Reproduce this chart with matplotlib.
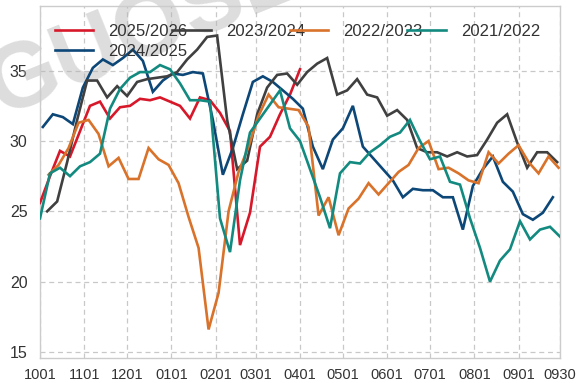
import matplotlib
matplotlib.use("Agg")
import matplotlib.pyplot as plt

# weekly values, x = days since Oct 1
tick_days = [0, 31, 61, 92, 123, 151, 182, 212, 243, 273, 304, 335, 364]
tick_labels = ["1001", "1101", "1201", "0101", "0201", "0301", "0401",
               "0501", "0601", "0701", "0801", "0901", "0930"]

s2526 = [25.6, 27.5, 29.3, 28.9, 30.7, 32.5, 32.8, 31.6, 32.4, 32.5,
         33.0, 32.9, 33.1, 32.8, 32.5, 31.6, 33.1, 32.9, 32.0, 30.7,
         22.6, 24.9, 29.6, 30.3, 31.9, 33.3, 35.1]

s2425 = [31.0, 31.9, 31.7, 31.2, 33.8, 35.2, 35.8, 35.4, 35.9, 36.5,
         35.7, 33.5, 34.3, 34.8, 34.7, 34.9, 34.8, 31.5, 27.6, 29.5,
         31.9, 34.2, 34.6, 34.2, 33.6, 33.0, 32.3, 29.6, 28.0, 30.1,
         30.9, 32.5, 29.6, 28.8, 28.0, 27.2, 26.0, 26.6, 26.5, 26.5,
         26.0, 26.0, 23.7, 26.8, 28.0, 28.9, 27.1, 26.4, 24.8, 24.4,
         24.9, 26.0]

s2324 = [25.0, 25.7, 28.5, 31.5, 34.3, 34.3, 33.1, 33.9, 33.2, 34.2,
         34.4, 34.5, 34.6, 34.9, 35.8, 36.5, 37.4, 37.5, 31.5, 28.0,
         28.6, 31.9, 33.8, 34.7, 34.8, 34.0, 34.9, 35.5, 35.9, 33.3,
         33.6, 34.4, 33.3, 33.1, 31.8, 32.2, 31.5, 29.5, 29.2, 29.2,
         28.9, 29.2, 28.9, 29.0, 30.1, 31.3, 31.9, 29.9, 28.1, 29.2,
         29.2, 28.5]

s2223 = [27.6, 28.3, 29.5, 31.3, 31.5, 30.5, 28.2, 28.8, 27.3, 27.3,
         29.5, 28.7, 28.3, 27.0, 24.6, 22.4, 16.6, 19.2, 25.0, 27.8,
         29.6, 31.8, 33.3, 32.4, 32.3, 32.2, 31.0, 24.7, 26.0, 23.3,
         25.2, 25.9, 27.0, 26.2, 27.0, 27.8, 28.3, 29.5, 30.0, 28.0,
         28.1, 27.7, 27.2, 27.0, 29.2, 28.4, 29.1, 29.7, 28.5, 27.7,
         28.9, 28.1]

s2122 = [24.5, 27.7, 28.1, 27.5, 28.2, 28.5, 29.1, 32.3, 33.7, 34.5,
         34.9, 34.9, 35.4, 35.1, 34.1, 32.9, 32.9, 32.8, 24.5, 22.1,
         27.2, 30.6, 31.6, 32.6, 33.6, 30.9, 30.0, 28.0, 26.0, 23.8,
         27.7, 28.5, 28.4, 29.2, 29.7, 30.3, 30.6, 31.5, 30.0, 28.7,
         28.9, 27.1, 26.9, 24.5, 22.4, 20.0, 21.5, 22.3, 24.3, 23.0,
         23.7, 23.9, 23.2]

# (label, values, first day, colour)
series = [
    ("2025/2026", s2526, 0, "#d7182a"),
    ("2024/2025", s2425, 2, "#0c4778"),
    ("2023/2024", s2324, 5, "#404040"),
    ("2022/2023", s2223, 6, "#d9722a"),
    ("2021/2022", s2122, 0, "#138a80"),
]

plt.rcParams["font.family"] = ["Liberation Sans", "DejaVu Sans"]

fig = plt.figure(figsize=(5.78, 3.83), dpi=100)
ax = fig.add_axes([40 / 578, 25 / 383, 520 / 578, 352 / 383])

for label, vals, start, color in series:
    days = [start + 7 * i for i in range(len(vals))]
    ax.plot(days, vals, color=color, lw=1.9, label=label, zorder=3,
            solid_joinstyle="miter")

ax.set_xlim(0, 364)
ax.set_ylim(14.57, 39.6)
ax.set_xticks(tick_days)
ax.set_xticklabels(tick_labels)
ax.set_yticks([15, 20, 25, 30, 35])
ax.tick_params(axis="x", length=0, pad=7, labelsize=10.5, labelcolor="#333333")
ax.tick_params(axis="y", length=0, pad=9, labelsize=11.5, labelcolor="#333333")
ax.grid(True, color="#c8c8c8", ls=(0, (4, 3)), lw=0.9)
ax.set_axisbelow(True)
for sp in ax.spines.values():
    sp.set_color("#cccccc")
    sp.set_linewidth(1.0)

# watermark, runs off the top edge
ax.text(0 / 578, 1 - 116 / 383, "GUOSEN", transform=fig.transFigure,
        fontsize=66, fontweight="bold", color="#b4b4b4", alpha=0.45,
        rotation=22, rotation_mode="anchor", ha="left", va="baseline",
        clip_on=False, zorder=1)

leg = ax.legend(loc="upper left", bbox_to_anchor=(15 / 520, 1 - 18 / 352),
                ncol=4, frameon=False, fontsize=12, handlelength=2.3,
                handletextpad=0.9, columnspacing=-0.9, labelspacing=0.3,
                borderpad=0, borderaxespad=0)
for t in leg.get_texts():
    t.set_color("#333333")
leg.set_zorder(4)

fig.savefig("out.png", dpi=100)
